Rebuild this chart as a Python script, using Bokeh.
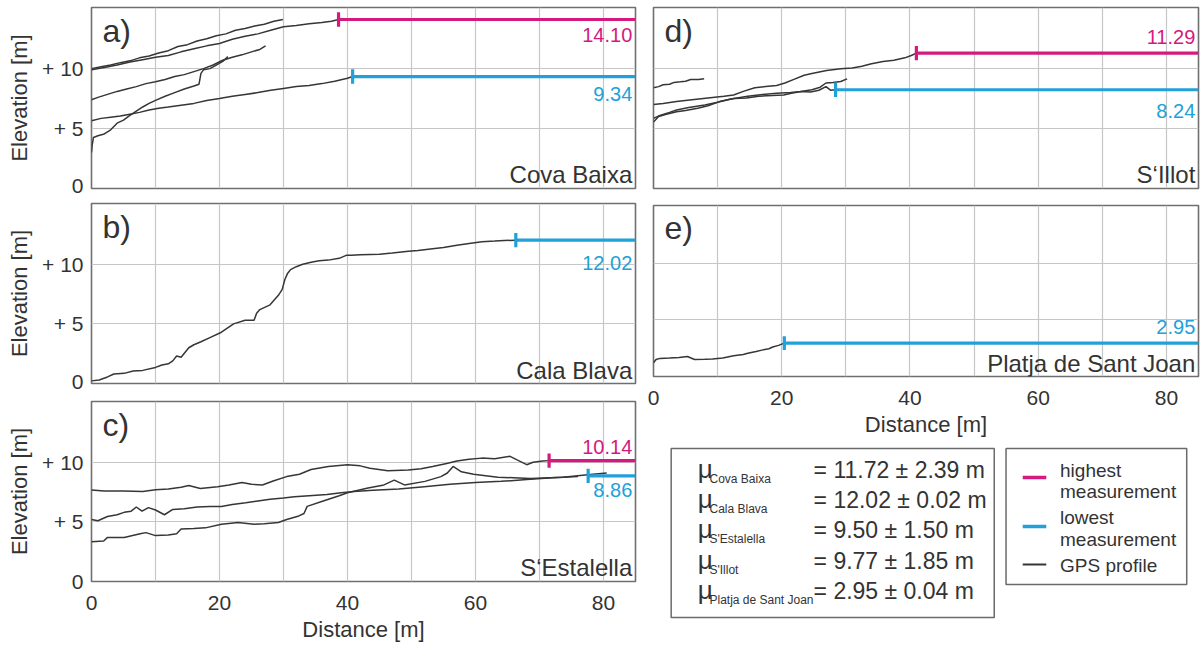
from bokeh.plotting import figure
from bokeh.layouts import row, column
from bokeh.models import Range1d, FixedTicker, Grid
from bokeh.core.properties import value
from bokeh.embed import file_html
from bokeh.resources import INLINE

FONT = "Liberation Sans"
MAGENTA = "#d4197f"
BLUE = "#20a1d9"
GPS = "#363636"
GRID_COLOR = "#c6c6c6"
TEXT = "#333333"

# ---------------- data ----------------
X_MAX = 85
Y_MAX = 15.1
grid_x = [10, 20, 30, 40, 50, 60, 70, 80]
grid_y = [5, 10]
x_ticks = [0, 20, 40, 60, 80]
y_ticks = [0, 5, 10]
y_tick_labels = {0: "0", 5: "+ 5", 10: "+ 10"}

# a) Cova Baixa
cb1_x = [0, 1.5, 3, 4.5, 6, 7.5, 9, 10.5, 12, 13.5, 15, 16.5, 18, 19.5, 21, 22.5, 24, 25.5, 27, 28.5, 29.9]
cb1_y = [10.0, 10.15, 10.3, 10.5, 10.65, 10.9, 11.05, 11.3, 11.5, 11.85, 12.0, 12.3, 12.5, 12.75, 12.9, 13.2, 13.35, 13.55, 13.7, 13.95, 14.1]
cb2_x = [0, 2, 4, 6, 8, 10, 12, 14, 16, 18, 20, 22, 24, 26, 28, 30, 32, 34, 36, 37.5, 38.6]
cb2_y = [9.9, 10.1, 10.3, 10.55, 10.75, 10.95, 11.1, 11.4, 11.65, 11.9, 12.1, 12.45, 12.7, 12.9, 13.2, 13.5, 13.6, 13.75, 13.85, 13.95, 14.1]
cb3_x = [0, 1, 2.5, 4, 5.5, 7, 8.5, 10, 11.5, 13, 14.5, 16, 17.5, 19, 20.5, 22, 23.5, 25, 26.3, 27.2]
cb3_y = [7.4, 7.6, 7.85, 8.1, 8.3, 8.5, 8.75, 8.9, 9.1, 9.35, 9.5, 9.75, 10.0, 10.3, 10.7, 10.95, 11.15, 11.4, 11.6, 11.9]
cb4_x = [0, 0.1, 0.3, 1, 2, 3, 4, 5, 6, 7, 8, 9, 10, 11.5, 13, 14.5, 16, 16.8, 17.1, 17.5, 18.5, 19.5, 20.5, 21.3]
cb4_y = [3.0, 3.6, 4.25, 4.4, 4.55, 4.9, 5.45, 5.7, 6.1, 6.45, 6.8, 7.1, 7.35, 7.7, 8.0, 8.3, 8.55, 8.7, 9.6, 9.9, 10.0, 10.3, 10.6, 11.0]
cb5_x = [0, 1.5, 3, 4.5, 6, 7.5, 9, 10.5, 12, 14, 16, 18, 20, 22, 24, 26, 28, 30, 32, 34, 36, 38, 40, 40.8]
cb5_y = [5.65, 5.85, 5.95, 6.05, 6.2, 6.35, 6.55, 6.7, 6.8, 6.95, 7.1, 7.35, 7.5, 7.7, 7.85, 8.0, 8.2, 8.35, 8.5, 8.6, 8.75, 8.95, 9.2, 9.34]

# b) Cala Blava
cbl_x = [0, 1.2, 2.5, 3.5, 5.1, 6.5, 8, 10, 11, 12, 12.7, 13.3, 14, 15.2, 16, 17.1, 18.5, 20.3, 22.2, 24, 25.4, 25.8, 26.3, 27.9, 29.2, 29.8, 30.2, 30.6, 31.1, 32, 33, 34.5, 35.6, 37, 38.7, 39.8, 40.6, 42, 45, 47, 49.5, 51, 53.3, 55, 57.1, 59, 61, 63, 64.5, 66.3]
cbl_y = [0.22, 0.3, 0.55, 0.8, 0.85, 1.05, 1.1, 1.35, 1.55, 1.65, 1.9, 2.3, 2.2, 3.0, 3.25, 3.5, 3.85, 4.3, 5.0, 5.3, 5.3, 5.9, 6.2, 6.6, 7.4, 7.9, 8.7, 9.2, 9.55, 9.8, 10.0, 10.2, 10.3, 10.35, 10.5, 10.75, 10.75, 10.8, 10.85, 10.95, 11.1, 11.15, 11.3, 11.4, 11.6, 11.75, 11.9, 11.95, 12.0, 12.02]

# c) S'Estalella
se1_x = [0, 2, 5, 8, 10, 12, 14, 15.2, 17, 19.7, 21.5, 23.5, 25, 26.7, 28.5, 30.5, 32.5, 34.3, 37, 40, 42, 43.5, 46.3, 49.5, 51.5, 53.3, 55.5, 57.1, 59, 61, 63, 65.4, 66.5, 68, 69, 70.5, 71.5]
se1_y = [7.67, 7.6, 7.6, 7.55, 7.7, 7.75, 7.9, 8.05, 7.8, 7.95, 8.1, 8.3, 8.15, 8.1, 8.45, 8.8, 9.0, 9.4, 9.65, 9.8, 9.7, 9.5, 9.3, 9.35, 9.45, 9.65, 9.9, 10.1, 10.25, 10.35, 10.3, 10.5, 10.2, 9.8, 10.0, 10.1, 10.14]
se2_x = [0, 1, 2.5, 4, 5.1, 6.2, 7, 7.9, 8.9, 10, 11.4, 12.7, 14.5, 16.5, 18.5, 20.3, 22, 24.1, 26, 27.9, 30, 31.7, 34, 36.8, 39, 41, 44, 48, 52, 56, 60, 64, 68, 72, 76]
se2_y = [5.2, 5.1, 5.45, 5.6, 5.8, 5.9, 6.25, 5.9, 6.2, 6.0, 5.6, 6.05, 6.1, 6.25, 6.3, 6.3, 6.45, 6.6, 6.75, 6.9, 7.0, 7.1, 7.2, 7.3, 7.45, 7.55, 7.65, 7.75, 7.95, 8.15, 8.3, 8.4, 8.55, 8.7, 8.8]
se3_x = [0, 1.9, 2.5, 5.1, 7.6, 8.5, 10, 12, 13.3, 14, 16, 17.8, 20.3, 22.9, 25.4, 27, 29.2, 30.5, 32.4, 33.2, 33.7, 36.2, 38.7, 40, 43.2, 45.7, 47.3, 48.9, 52.1, 54.6, 55.6, 56.5, 57.8, 59.7, 63.5, 68.6, 73.7, 77.5, 80.5]
se3_y = [3.33, 3.4, 3.7, 3.7, 4.0, 4.1, 3.85, 3.9, 4.0, 4.4, 4.45, 4.5, 4.8, 4.95, 4.8, 4.85, 4.95, 5.2, 5.5, 5.7, 6.3, 6.75, 7.2, 7.45, 7.85, 8.1, 8.5, 8.1, 8.4, 8.8, 9.1, 9.65, 9.2, 9.0, 8.75, 8.65, 8.75, 8.95, 9.1]

# d) S'Illot
si1_x = [0, 0.8, 1.5, 2.5, 3.2, 4.2, 5, 5.8, 7, 7.9]
si1_y = [8.4, 8.5, 8.65, 8.7, 8.85, 8.9, 8.95, 9.1, 9.1, 9.15]
si2_x = [0, 1.5, 3.6, 6, 9.2, 11, 12.5, 14, 15.8, 17.5, 19.2, 20.5, 21.9, 23.5, 24.7, 27, 29.2, 31, 32.5, 34, 35.8, 37.5, 39.2, 40.2, 41]
si2_y = [7.0, 7.1, 7.25, 7.4, 7.6, 7.7, 7.8, 8.1, 8.4, 8.5, 8.6, 8.8, 9.1, 9.45, 9.6, 9.85, 10.0, 10.05, 10.2, 10.4, 10.6, 10.7, 10.9, 11.1, 11.29]
si3_x = [0, 0.8, 2, 3.6, 5, 6.9, 8.5, 10.3, 12.5, 14.5, 16.4, 18.5, 20.3, 21.5, 23, 24.5, 25.8, 26.9, 27.6, 28.4]
si3_y = [5.55, 6.0, 6.2, 6.4, 6.5, 6.7, 6.9, 7.25, 7.5, 7.55, 7.7, 7.75, 7.8, 7.95, 8.1, 8.05, 8.2, 8.5, 8.2, 8.24]
si4_x = [0, 1, 2.5, 3.6, 5.5, 8, 10, 11.9, 13.5, 14.7, 17, 19.2, 21.4, 23, 24.7, 26, 26.9, 28, 29.2, 30.2]
si4_y = [5.85, 6.1, 6.35, 6.55, 6.75, 6.97, 7.2, 7.45, 7.6, 7.7, 7.85, 7.95, 8.0, 8.1, 8.24, 8.45, 8.8, 8.85, 8.93, 9.15]

# e) Platja de Sant Joan
pj_x = [0, 0.4, 1, 2.5, 4, 5.3, 6.4, 8, 9.2, 10.8, 12.5, 14, 14.7, 16, 16.9, 18, 18.6, 19.5, 20.4]
pj_y = [1.2, 1.5, 1.6, 1.63, 1.68, 1.77, 1.5, 1.52, 1.55, 1.63, 1.83, 1.95, 2.05, 2.2, 2.33, 2.45, 2.6, 2.75, 2.95]

# highest / lowest measurements: (start distance, elevation)
cb_high = (38.6, 14.10)
cb_low = (40.8, 9.34)
cbl_low = (66.3, 12.02)
se_high = (71.5, 10.14)
se_low = (77.6, 8.86)
si_high = (41.0, 11.29)
si_low = (28.4, 8.24)
pj_low = (20.4, 2.95)

# legend statistics
site_names = ["Cova Baixa", "Cala Blava", "S'Estalella", "S'Illot", "Platja de Sant Joan"]
site_means = [11.72, 12.02, 9.50, 9.77, 2.95]
site_sds = [2.39, 0.02, 1.50, 1.85, 0.04]
legend_labels = [["highest", "measurement"], ["lowest", "measurement"], ["GPS profile"]]
legend_colors = [MAGENTA, BLUE, GPS]


# ---------------- helpers ----------------
def make_panel(width, height, border, show_x, show_y):
    left, right, top, bottom = border
    p = figure(width=width, height=height, output_backend="svg", toolbar_location=None,
               x_range=Range1d(0, X_MAX), y_range=Range1d(0, Y_MAX),
               x_axis_location="below" if show_x else None,
               y_axis_location="left" if show_y else None,
               min_border_left=left, min_border_right=right,
               min_border_top=top, min_border_bottom=bottom)
    p.center = [c for c in p.center if not isinstance(c, Grid)]
    p.add_layout(Grid(dimension=0, ticker=FixedTicker(ticks=grid_x),
                      grid_line_color=GRID_COLOR, grid_line_width=1.2))
    p.add_layout(Grid(dimension=1, ticker=FixedTicker(ticks=grid_y),
                      grid_line_color=GRID_COLOR, grid_line_width=1.2))
    p.outline_line_color = "#6f6f6f"
    p.outline_line_width = 1.6
    p.background_fill_color = "white"
    p.border_fill_color = "white"
    if show_y:
        ax = p.yaxis[0]
        ax.ticker = FixedTicker(ticks=y_ticks)
        ax.major_label_overrides = y_tick_labels
        ax.axis_label = "Elevation [m]"
        ax.axis_label_standoff = 7
        ax.major_label_standoff = 8
    if show_x:
        ax = p.xaxis[0]
        ax.ticker = FixedTicker(ticks=x_ticks)
        ax.axis_label = "Distance [m]"
        ax.axis_label_standoff = 4
        ax.major_label_standoff = 14
    for ax in p.axis:
        ax.axis_line_color = None
        ax.major_tick_line_color = None
        ax.minor_tick_line_color = None
        ax.major_tick_in = 0
        ax.major_tick_out = 0
        ax.major_label_text_font = FONT
        ax.major_label_text_font_size = "21px"
        ax.major_label_text_color = TEXT
        ax.axis_label_text_font = FONT
        ax.axis_label_text_font_size = "22px"
        ax.axis_label_text_font_style = "normal"
        ax.axis_label_text_color = TEXT
    return p


def profiles(p, series):
    for xs, ys in series:
        p.line(xs, ys, line_color=GPS, line_width=1.5)


def measurement(p, m, color):
    x0, y0 = m
    p.segment(x0=[x0], y0=[y0], x1=[X_MAX], y1=[y0], line_color=color, line_width=3.2)
    p.segment(x0=[x0], y0=[y0 - 0.6], x1=[x0], y1=[y0 + 0.6], line_color=color, line_width=3.2)


def label(p, y, txt, color, size, align="right", x=84.5):
    p.text(x=[x], y=[y], text=[txt], text_font=value(FONT), text_font_size=size,
           text_color=color, text_align=align, text_baseline="middle")


def letter(p, txt):
    label(p, 13.1, txt, TEXT, "32px", align="left", x=1.7)


# ---------------- panels ----------------
pa = make_panel(645, 196, (91, 10, 7, 8), False, True)
profiles(pa, [(cb1_x, cb1_y), (cb2_x, cb2_y), (cb3_x, cb3_y), (cb4_x, cb4_y), (cb5_x, cb5_y)])
measurement(pa, cb_high, MAGENTA)
measurement(pa, cb_low, BLUE)
label(pa, 12.8, f"{cb_high[1]:.2f}", MAGENTA, "20px")
label(pa, 7.9, f"{cb_low[1]:.2f}", BLUE, "20px")
label(pa, 1.15, "Cova Baixa", TEXT, "24px")
letter(pa, "a)")

pb = make_panel(645, 196, (91, 10, 7, 9), False, True)
profiles(pb, [(cbl_x, cbl_y)])
measurement(pb, cbl_low, BLUE)
label(pb, 10.15, f"{cbl_low[1]:.2f}", BLUE, "20px")
label(pb, 1.1, "Cala Blava", TEXT, "24px")
letter(pb, "b)")

pc = make_panel(645, 256, (91, 10, 9, 67), True, True)
profiles(pc, [(se1_x, se1_y), (se2_x, se2_y), (se3_x, se3_y)])
measurement(pc, se_high, MAGENTA)
measurement(pc, se_low, BLUE)
label(pc, 11.3, f"{se_high[1]:.2f}", MAGENTA, "20px")
label(pc, 7.7, f"{se_low[1]:.2f}", BLUE, "20px")
label(pc, 1.15, "S\u2018Estalella", TEXT, "24px")
letter(pc, "c)")

pd = make_panel(555, 196, (8, 2, 7, 8), False, False)
profiles(pd, [(si1_x, si1_y), (si2_x, si2_y), (si3_x, si3_y), (si4_x, si4_y)])
measurement(pd, si_high, MAGENTA)
measurement(pd, si_low, BLUE)
label(pd, 12.6, f"{si_high[1]:.2f}", MAGENTA, "20px")
label(pd, 6.5, f"{si_low[1]:.2f}", BLUE, "20px")
label(pd, 1.15, "S\u2018Illot", TEXT, "24px")
letter(pd, "d)")

pe = make_panel(555, 243, (8, 2, 9, 55), True, False)
profiles(pe, [(pj_x, pj_y)])
measurement(pe, pj_low, BLUE)
label(pe, 4.35, f"{pj_low[1]:.2f}", BLUE, "20px")
label(pe, 1.15, "Platja de Sant Joan", TEXT, "24px")
letter(pe, "e)")

# ---------------- legend area ----------------
LW, LH = 555, 209
lg = figure(width=LW, height=LH, output_backend="svg", toolbar_location=None,
            x_range=Range1d(0, LW), y_range=Range1d(LH, 0),
            x_axis_location=None, y_axis_location=None,
            min_border_left=0, min_border_right=0, min_border_top=0, min_border_bottom=0)
lg.center = [c for c in lg.center if not isinstance(c, Grid)]
lg.outline_line_color = None
lg.background_fill_color = "white"
lg.border_fill_color = "white"

# box 1: means
lg.quad(left=[18], right=[347], top=[9], bottom=[178], fill_color="white",
        line_color="#6a6a6a", line_width=1.5)
row_mid = [30 + 30.4 * i for i in range(len(site_names))]
lg.text(x=[45] * len(site_names), y=[m - 1 for m in row_mid], text=["\u03bc"] * len(site_names),
        text_font=value(FONT), text_font_size="26px", text_color=TEXT,
        text_baseline="middle")
lg.text(x=[57] * len(site_names), y=[m + 9 for m in row_mid], text=site_names,
        text_font=value(FONT), text_font_size="12px", text_color=TEXT,
        text_baseline="middle")
lg.text(x=[163] * len(site_names), y=row_mid,
        text=[f"= {m:.2f} \u00b1 {s:.2f} m" for m, s in zip(site_means, site_sds)],
        text_font=value(FONT), text_font_size="23px", text_color=TEXT,
        text_baseline="middle")

# box 2: symbols
lg.quad(left=[359], right=[543], top=[9], bottom=[145], fill_color="white",
        line_color="#6a6a6a", line_width=1.5)
sym_y = [38, 87, 125]
sym_w = [3.5, 3.5, 1.8]
for yy, col, w in zip(sym_y, legend_colors, sym_w):
    lg.line([376, 400], [yy, yy], line_color=col, line_width=w)
text_rows = [(legend_labels[0][0], 31), (legend_labels[0][1], 51.5),
             (legend_labels[1][0], 78), (legend_labels[1][1], 99.5),
             (legend_labels[2][0], 125.5)]
lg.text(x=[414] * len(text_rows), y=[t[1] for t in text_rows], text=[t[0] for t in text_rows],
        text_font=value(FONT), text_font_size="19px", text_color=TEXT,
        text_baseline="middle")

layout = row(column(pa, pb, pc), column(pd, pe, lg))
open("out.html", "w").write(file_html(layout, INLINE))
